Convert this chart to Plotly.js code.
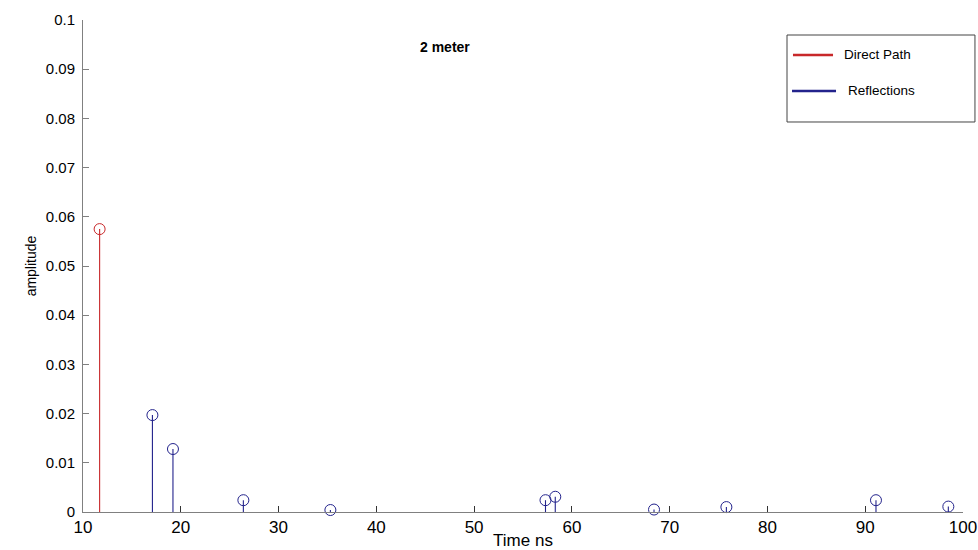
<!DOCTYPE html>
<html>
<head>
<meta charset="utf-8">
<script src="https://cdn.plot.ly/plotly-3.0.1.min.js"></script>
<style>html,body{margin:0;padding:0;background:#fff;}#chart{width:978px;height:550px;}</style>
</head>
<body>
<div id="chart"></div>
<script>
// Data
const directTime = [11.7];
const directAmp = [0.0575];
const reflTime = [17.1, 19.2, 26.4, 35.3, 57.3, 58.3, 68.4, 75.8, 91.1, 98.5];
const reflAmp = [0.0197, 0.0128, 0.0024, 0.0004, 0.0024, 0.0031, 0.0005, 0.0010, 0.0024, 0.0011];
const xTicks = [10, 20, 30, 40, 50, 60, 70, 80, 90, 100];
const yTicks = [0, 0.01, 0.02, 0.03, 0.04, 0.05, 0.06, 0.07, 0.08, 0.09, 0.1];
const yTickText = ['0', '0.01', '0.02', '0.03', '0.04', '0.05', '0.06', '0.07', '0.08', '0.09', '0.1'];
const seriesNames = ['Direct Path', 'Reflections'];
const chartTitle = '2 meter';

const RED = '#c8282a';
const BLUE = '#23238c';
const FONT = 'Liberation Sans, Arial, sans-serif';

function stemTrace(xs, ys, color, name) {
  return {
    type: 'scatter', mode: 'markers', name: name, x: xs, y: ys,
    cliponaxis: false, showlegend: false,
    marker: {symbol: 'circle-open', size: 11, color: color, line: {width: 1, color: color}},
    error_y: {type: 'data', symmetric: false, array: ys.map(() => 0), arrayminus: ys.slice(),
              color: color, thickness: 1.1, width: 0}
  };
}

const data = [
  stemTrace(directTime, directAmp, RED, seriesNames[0]),
  stemTrace(reflTime, reflAmp, BLUE, seriesNames[1])
];

const layout = {
  width: 978, height: 550,
  margin: {l: 83, r: 15, t: 20, b: 38},
  paper_bgcolor: '#fff', plot_bgcolor: '#fff',
  showlegend: false,
  font: {family: FONT, color: '#000'},
  xaxis: {
    range: [10, 100], tickvals: xTicks, ticktext: xTicks.map(String),
    showline: true, linecolor: '#808080', linewidth: 1,
    ticks: 'inside', ticklen: 6, tickcolor: '#333', tickwidth: 1,
    showgrid: false, zeroline: false,
    tickfont: {size: 17, family: FONT, color: '#000'},
    title: {text: 'Time ns', font: {size: 17, family: FONT, color: '#000'}, standoff: 1}
  },
  yaxis: {
    range: [0, 0.1], tickvals: yTicks, ticktext: yTickText,
    showline: true, linecolor: '#808080', linewidth: 1,
    ticks: 'inside', ticklen: 6, tickcolor: '#808080', tickwidth: 1,
    showgrid: false, zeroline: false, ticklabelstandoff: 4,
    tickfont: {size: 15, family: FONT, color: '#000'},
    title: {text: 'amplitude', font: {size: 14, family: FONT, color: '#000'}, standoff: 5}
  },
  shapes: [
    {type: 'rect', xref: 'paper', yref: 'paper', x0: 0.8, x1: 1.0136, y0: 0.7927, y1: 0.9695,
     line: {color: '#444', width: 1}, fillcolor: '#fff'},
    {type: 'line', xref: 'paper', yref: 'paper', x0: 0.8068, x1: 0.8523, y0: 0.9289, y1: 0.9289,
     line: {color: RED, width: 2.5}},
    {type: 'line', xref: 'paper', yref: 'paper', x0: 0.8057, x1: 0.8557, y0: 0.8557, y1: 0.8557,
     line: {color: BLUE, width: 2.5}}
  ],
  annotations: [
    {xref: 'paper', yref: 'paper', x: 0.4114, y: 0.9451, text: '<b>' + chartTitle + '</b>',
     showarrow: false, xanchor: 'center', yanchor: 'middle', font: {size: 14, family: FONT, color: '#000'}},
    {xref: 'paper', yref: 'paper', x: 0.8625, y: 0.9289, text: seriesNames[0], showarrow: false,
     xanchor: 'left', yanchor: 'middle', font: {size: 13.5, family: FONT, color: '#000'}},
    {xref: 'paper', yref: 'paper', x: 0.867, y: 0.8557, text: seriesNames[1], showarrow: false,
     xanchor: 'left', yanchor: 'middle', font: {size: 13.5, family: FONT, color: '#000'}}
  ]
};

Plotly.newPlot('chart', data, layout, {displayModeBar: false, staticPlot: true});
</script>
</body>
</html>
